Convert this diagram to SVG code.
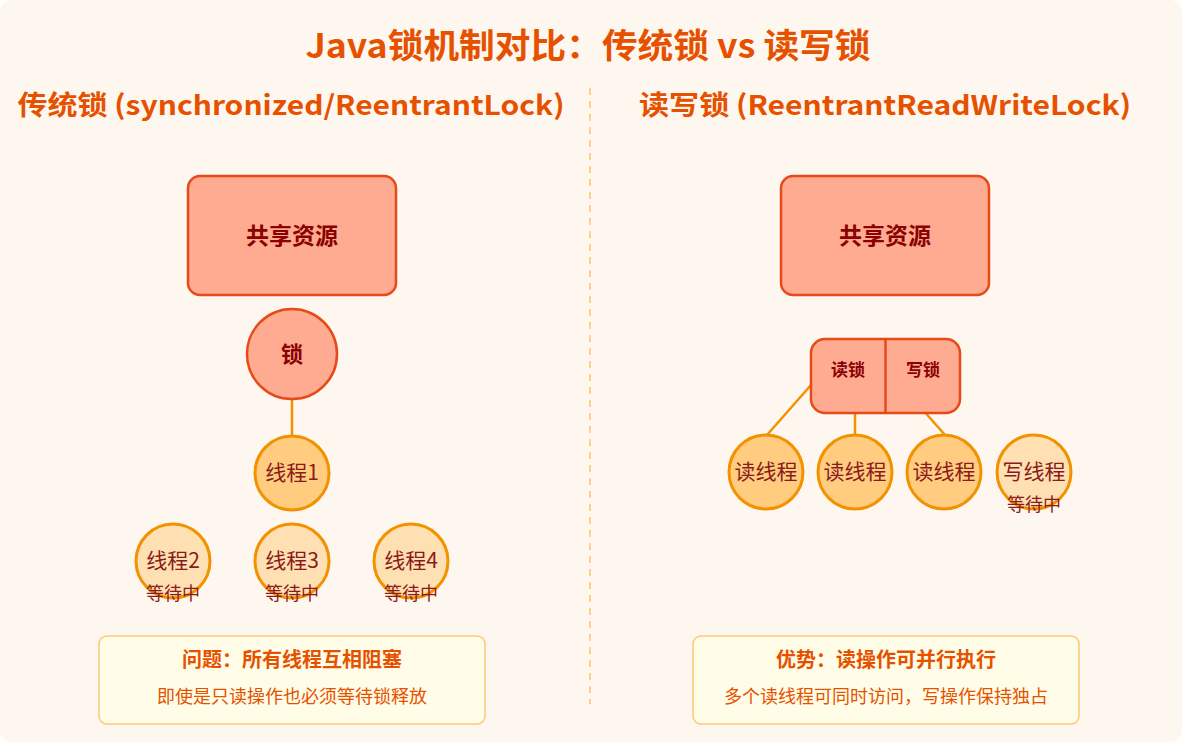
<svg xmlns="http://www.w3.org/2000/svg" width="1182" height="742" viewBox="0 0 1182 742">
<style>
text{font-family:"Noto Sans CJK SC","Liberation Sans",sans-serif;text-anchor:middle}
.title{font-size:34px;font-weight:bold;fill:#E65100}
.sub{font-size:27px;font-weight:bold;fill:#E65100}
.res{fill:#FFAB91;stroke:#E64A19;stroke-width:2.5}
.resT{font-size:23px;font-weight:bold;fill:#8B0000}
.lockT{font-size:17px;font-weight:bold;fill:#8B0000}
.th{fill:#FFCC80;stroke:#F39200;stroke-width:3}
.thw{fill:#FFE0B2;stroke:#F39200;stroke-width:3}
.thT{font-size:21px;fill:#8B1A1A}
.wait{font-size:18px;fill:#8B1A1A}
.conn{stroke:#F39200;stroke-width:2.5;fill:none}
.box{fill:#FFFDE7;stroke:#FFC67A;stroke-width:1.5}
.boxH{font-size:20px;font-weight:bold;fill:#E65100}
.boxS{font-size:18px;fill:#E65100}
</style>
<rect x="0" y="0" width="1182" height="742" fill="#FFFFFF"/>
<rect x="0" y="0" width="1182" height="742" rx="12" fill="#FEF7EF"/>
<text class="title" x="588" y="58" textLength="565" lengthAdjust="spacingAndGlyphs">Java锁机制对比：传统锁 vs 读写锁</text>
<text class="sub" x="291" y="115" textLength="547" lengthAdjust="spacingAndGlyphs">传统锁 (synchronized/ReentrantLock)</text>
<text class="sub" x="885" y="115" textLength="492" lengthAdjust="spacingAndGlyphs">读写锁 (ReentrantReadWriteLock)</text>
<line x1="590" y1="88" x2="590" y2="704" stroke="#FFD08A" stroke-width="2" stroke-dasharray="7,6"/>
<g id="connectors">
<line class="conn" x1="292" y1="399" x2="292" y2="436"/>
<line class="conn" x1="811" y1="385" x2="767" y2="435"/>
<line class="conn" x1="855" y1="413" x2="855" y2="435"/>
<line class="conn" x1="900" y1="384" x2="945" y2="435"/>
</g>
<g id="res-left"><rect class="res" x="188" y="176" width="208" height="119" rx="12"/><text class="resT" x="292" y="244">共享资源</text></g>
<g id="lock-left"><circle class="res" cx="292" cy="354" r="45"/><text class="resT" x="292" y="362" style="font-size:22px">锁</text></g>
<g id="t1"><circle class="th" cx="292" cy="473" r="37"/><text class="thT" x="292" y="480">线程1</text></g>
<g id="t2"><circle class="thw" cx="173" cy="561" r="37"/><text class="thT" x="173" y="568">线程2</text><text class="wait" x="173" y="600">等待中</text></g>
<g id="t3"><circle class="thw" cx="292" cy="561" r="37"/><text class="thT" x="292" y="568">线程3</text><text class="wait" x="292" y="600">等待中</text></g>
<g id="t4"><circle class="thw" cx="411" cy="561" r="37"/><text class="thT" x="411" y="568">线程4</text><text class="wait" x="411" y="600">等待中</text></g>
<g id="note-left"><rect class="box" x="99" y="636" width="386" height="88" rx="8"/><text class="boxH" x="292" y="667">问题：所有线程互相阻塞</text><text class="boxS" x="292" y="703">即使是只读操作也必须等待锁释放</text></g>
<g id="res-right"><rect class="res" x="781" y="176" width="208" height="119" rx="12"/><text class="resT" x="885" y="244">共享资源</text></g>
<g id="rwlock"><rect class="res" x="811" y="339" width="149" height="74" rx="14"/><line x1="885.5" y1="339" x2="885.5" y2="413" stroke="#E64A19" stroke-width="2.5"/><text class="lockT" x="848" y="376">读锁</text><text class="lockT" x="923" y="376">写锁</text></g>
<g id="r1"><circle class="th" cx="766" cy="472" r="37"/><text class="thT" x="766" y="479">读线程</text></g>
<g id="r2"><circle class="th" cx="855" cy="472" r="37"/><text class="thT" x="855" y="479">读线程</text></g>
<g id="r3"><circle class="th" cx="944" cy="472" r="37"/><text class="thT" x="944" y="479">读线程</text></g>
<g id="w1"><circle class="thw" cx="1034" cy="472" r="37"/><text class="thT" x="1034" y="479">写线程</text><text class="wait" x="1034" y="511">等待中</text></g>
<g id="note-right"><rect class="box" x="693" y="636" width="386" height="88" rx="8"/><text class="boxH" x="886" y="667">优势：读操作可并行执行</text><text class="boxS" x="886" y="703">多个读线程可同时访问，写操作保持独占</text></g>
</svg>
